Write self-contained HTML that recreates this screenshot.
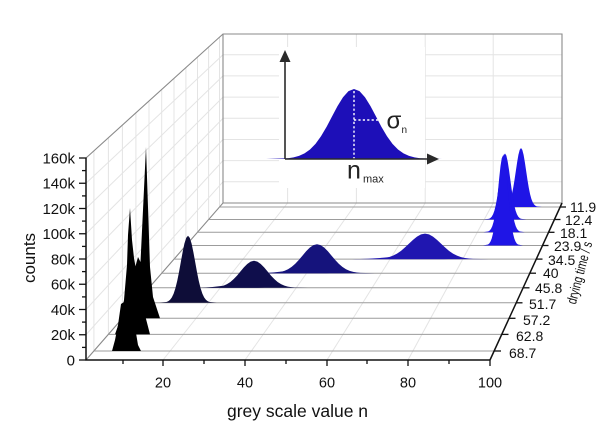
<!DOCTYPE html>
<html><head><meta charset="utf-8"><style>
html,body{margin:0;padding:0;background:#fff;}
svg{display:block;font-family:"Liberation Sans",Arial,sans-serif;}
</style></head><body>
<svg width="600" height="429" viewBox="0 0 600 429" xmlns="http://www.w3.org/2000/svg">
<defs>
<path id="g" d="M-4,0 L-3,-0.0111 L-2.75,-0.0228 L-2.5,-0.0439 L-2.25,-0.0796 L-2,-0.1353 L-1.75,-0.2163 L-1.5,-0.3247 L-1.25,-0.4578 L-1,-0.6065 L-0.75,-0.7548 L-0.5,-0.8825 L-0.25,-0.9692 L0,-1 L0.25,-0.9692 L0.5,-0.8825 L0.75,-0.7548 L1,-0.6065 L1.25,-0.4578 L1.5,-0.3247 L1.75,-0.2163 L2,-0.1353 L2.25,-0.0796 L2.5,-0.0439 L2.75,-0.0228 L3,-0.0111 L4,0 Z"/>
</defs>
<rect width="600" height="429" fill="#fff"/>

<!-- back wall grid -->
<g stroke="#e4e4e4" stroke-width="1" fill="none">
<line x1="223" y1="181.8" x2="562" y2="181.8"/>
<line x1="223" y1="160.6" x2="562" y2="160.6"/>
<line x1="223" y1="139.5" x2="562" y2="139.5"/>
<line x1="223" y1="118.3" x2="562" y2="118.3"/>
<line x1="223" y1="97.1" x2="562" y2="97.1"/>
<line x1="223" y1="75.9" x2="562" y2="75.9"/>
<line x1="223" y1="54.8" x2="562" y2="54.8"/>
<line x1="287.6" y1="34" x2="287.6" y2="203"/>
<line x1="356.4" y1="34" x2="356.4" y2="203"/>
<line x1="425.2" y1="34" x2="425.2" y2="203"/>
<line x1="493.2" y1="34" x2="493.2" y2="203"/>
<line x1="86" y1="334.75" x2="223" y2="181.8"/>
<line x1="86" y1="309.5" x2="223" y2="160.6"/>
<line x1="86" y1="284.25" x2="223" y2="139.5"/>
<line x1="86" y1="259" x2="223" y2="118.3"/>
<line x1="86" y1="233.75" x2="223" y2="97.1"/>
<line x1="86" y1="208.5" x2="223" y2="75.9"/>
<line x1="86" y1="183.25" x2="223" y2="54.8"/>
<line x1="93.9" y1="150.9" x2="93.9" y2="351"/>
<line x1="108.4" y1="137.7" x2="108.4" y2="334.4"/>
<line x1="122.4" y1="124.9" x2="122.4" y2="318.3"/>
<line x1="135.9" y1="112.6" x2="135.9" y2="302.8"/>
<line x1="149" y1="100.7" x2="149" y2="287.8"/>
<line x1="161.7" y1="89.2" x2="161.7" y2="273.2"/>
<line x1="174" y1="78" x2="174" y2="259.1"/>
<line x1="185.9" y1="67.2" x2="185.9" y2="245.5"/>
<line x1="197.5" y1="56.7" x2="197.5" y2="232.3"/>
<line x1="208.6" y1="46.6" x2="208.6" y2="219.5"/>
<line x1="219.5" y1="36.7" x2="219.5" y2="207"/>
<line x1="163" y1="360" x2="287.6" y2="203"/>
<line x1="245" y1="360" x2="356.4" y2="203"/>
<line x1="327" y1="360" x2="425.2" y2="203"/>
<line x1="408" y1="360" x2="493.2" y2="203"/>
</g>

<!-- wall borders -->
<g stroke="#8a8a8a" stroke-width="1.1" fill="none">
<polyline points="86,158 223,34 562,34 562,203 223,203 86,360"/>
<line x1="223" y1="34" x2="223" y2="203"/>
</g>

<!-- inset -->
<rect x="279" y="47" width="146" height="141" fill="#fff"/>
<use href="#g" transform="translate(354,159) scale(22,70)" fill="#1d0fb8"/>
<g stroke="#fff" stroke-width="1.4" stroke-dasharray="2.2,2.2">
<line x1="354" y1="91" x2="354" y2="159"/>
<line x1="354" y1="120" x2="378" y2="120"/>
</g>
<g stroke="#2a2a2a" stroke-width="1.6">
<line x1="285" y1="159" x2="285" y2="60"/>
<line x1="285" y1="159" x2="428" y2="159"/>
</g>
<polygon points="285,50 279.5,62 290.5,62" fill="#2a2a2a"/>
<polygon points="439,159 427,153.5 427,164.5" fill="#2a2a2a"/>
<text x="386.5" y="128.3" font-size="24" fill="#222">σ</text>
<text x="401.5" y="133" font-size="10" fill="#222">n</text>
<text x="347" y="178.5" font-size="25" fill="#222">n</text>
<text x="363" y="182.5" font-size="11" fill="#222">max</text>

<!-- i=10 -->
<line x1="219.5" y1="207" x2="560.1" y2="207" stroke="#9c9c9c"/>
<use href="#g" transform="translate(521,207) scale(5.2,59)" fill="#1f15e6"/>
<!-- i=9 -->
<line x1="208.6" y1="219.5" x2="554.4" y2="219.5" stroke="#9c9c9c"/>
<use href="#g" transform="translate(505,219.5) scale(5.3,66)" fill="#1f15e6"/>
<!-- i=8 -->
<line x1="197.5" y1="232.3" x2="548.5" y2="232.3" stroke="#9c9c9c"/>
<use href="#g" transform="translate(504,232.3) scale(5.2,78)" fill="#1f15e6"/>
<!-- i=7 -->
<line x1="185.9" y1="245.5" x2="542.5" y2="245.5" stroke="#9c9c9c"/>
<use href="#g" transform="translate(503,245.5) scale(5,90)" fill="#1f15e6"/>
<!-- i=6 -->
<line x1="174" y1="259.1" x2="536.2" y2="259.1" stroke="#9c9c9c"/>
<use href="#g" transform="translate(400,259.1) scale(16,2.5)" fill="#2016b0"/>
<use href="#g" transform="translate(425,259.1) scale(16,25.5)" fill="#2016b0"/>
<!-- i=5 -->
<line x1="161.7" y1="273.2" x2="529.8" y2="273.2" stroke="#9c9c9c"/>
<use href="#g" transform="translate(295,273.2) scale(14,2.5)" fill="#15137c"/>
<use href="#g" transform="translate(317,273.2) scale(14.5,29)" fill="#15137c"/>
<!-- i=4 -->
<line x1="149" y1="287.8" x2="523.1" y2="287.8" stroke="#9c9c9c"/>
<use href="#g" transform="translate(232,287.8) scale(13,2.5)" fill="#0f0e4c"/>
<use href="#g" transform="translate(254,287.8) scale(13.5,27)" fill="#0f0e4c"/>
<!-- i=3 -->
<line x1="135.9" y1="302.8" x2="516.2" y2="302.8" stroke="#9c9c9c"/>
<use href="#g" transform="translate(188,302.8) scale(7.2,67)" fill="#0e0d38"/>
<!-- i=2 -->
<line x1="122.4" y1="318.3" x2="509.1" y2="318.3" stroke="#9c9c9c"/>
<polygon points="124,318.3 131,295 135,268 138,257 140.5,262 143,210 146,147 148,207 150,267 153,297 160,318.3" fill="#000"/>
<!-- i=1 -->
<line x1="108.4" y1="334.4" x2="501.8" y2="334.4" stroke="#9c9c9c"/>
<polygon points="115,334.4 120,320 124,300 127,265 128,235 130,208 132,240 134,258 137,275 141,295 145,315 150,334.4" fill="#000"/>
<!-- i=0 -->
<line x1="93.9" y1="351" x2="494.1" y2="351" stroke="#9c9c9c"/>
<polygon points="112,351 115,340 118,325 121,304 124,302 127,310 131,322 136,333 138,345 141,351" fill="#000"/>

<!-- front axes -->
<g stroke="#111" stroke-width="1.5" fill="none">
<line x1="86" y1="157.5" x2="86" y2="360.5"/>
<line x1="85.5" y1="360" x2="490.5" y2="360"/>
<line x1="490" y1="360" x2="562" y2="203"/>
</g>
<g stroke="#111" stroke-width="1.3">
<line x1="79" y1="158" x2="86" y2="158"/>
<line x1="79" y1="183.25" x2="86" y2="183.25"/>
<line x1="79" y1="208.5" x2="86" y2="208.5"/>
<line x1="79" y1="233.75" x2="86" y2="233.75"/>
<line x1="79" y1="259" x2="86" y2="259"/>
<line x1="79" y1="284.25" x2="86" y2="284.25"/>
<line x1="79" y1="309.5" x2="86" y2="309.5"/>
<line x1="79" y1="334.75" x2="86" y2="334.75"/>
<line x1="79" y1="360" x2="86" y2="360"/>
<line x1="82" y1="170.6" x2="86" y2="170.6"/>
<line x1="82" y1="195.9" x2="86" y2="195.9"/>
<line x1="82" y1="221.1" x2="86" y2="221.1"/>
<line x1="82" y1="246.4" x2="86" y2="246.4"/>
<line x1="82" y1="271.6" x2="86" y2="271.6"/>
<line x1="82" y1="296.9" x2="86" y2="296.9"/>
<line x1="82" y1="322.1" x2="86" y2="322.1"/>
<line x1="82" y1="347.4" x2="86" y2="347.4"/>
<line x1="163" y1="360" x2="163" y2="366"/>
<line x1="245" y1="360" x2="245" y2="366"/>
<line x1="327" y1="360" x2="327" y2="366"/>
<line x1="408" y1="360" x2="408" y2="366"/>
<line x1="490" y1="360" x2="490" y2="366"/>
<line x1="123" y1="360" x2="123" y2="364"/>
<line x1="204" y1="360" x2="204" y2="364"/>
<line x1="286" y1="360" x2="286" y2="364"/>
<line x1="367" y1="360" x2="367" y2="364"/>
<line x1="449" y1="360" x2="449" y2="364"/>
<line x1="494.1" y1="351" x2="501" y2="351"/>
<line x1="501.8" y1="334.4" x2="508.5" y2="334.4"/>
<line x1="509.1" y1="318.3" x2="515.5" y2="318.3"/>
<line x1="516.2" y1="302.8" x2="522.5" y2="302.8"/>
<line x1="523.1" y1="287.8" x2="529.5" y2="287.8"/>
<line x1="529.8" y1="273.2" x2="536" y2="273.2"/>
<line x1="536.2" y1="259.1" x2="542.5" y2="259.1"/>
<line x1="542.5" y1="245.5" x2="548.5" y2="245.5"/>
<line x1="548.5" y1="232.3" x2="554.5" y2="232.3"/>
<line x1="554.4" y1="219.5" x2="560.5" y2="219.5"/>
<line x1="560.1" y1="207" x2="566" y2="207"/>
</g>

<!-- y labels -->
<g font-size="15" fill="#111" text-anchor="end">
<text x="75" y="163.4">160k</text>
<text x="75" y="188.6">140k</text>
<text x="75" y="213.9">120k</text>
<text x="75" y="239.1">100k</text>
<text x="75" y="264.4">80k</text>
<text x="75" y="289.6">60k</text>
<text x="75" y="314.9">40k</text>
<text x="75" y="340.1">20k</text>
<text x="75" y="365.4">0</text>
</g>
<text x="0" y="0" font-size="17" fill="#111" text-anchor="middle" transform="translate(35,258) rotate(-90)">counts</text>

<!-- x labels -->
<g font-size="14.5" fill="#111" text-anchor="middle">
<text x="163" y="387.5">20</text>
<text x="245" y="387.5">40</text>
<text x="327" y="387.5">60</text>
<text x="408" y="387.5">80</text>
<text x="490" y="387.5">100</text>
</g>
<text x="297.5" y="417" font-size="17.5" fill="#111" text-anchor="middle">grey scale value n</text>

<!-- depth labels -->
<g font-size="14" fill="#111">
<text x="509" y="358">68.7</text>
<text x="516" y="341">62.8</text>
<text x="523" y="325">57.2</text>
<text x="529" y="309">51.7</text>
<text x="535" y="293">45.8</text>
<text x="543" y="278">40</text>
<text x="548" y="265">34.5</text>
<text x="554" y="251">23.9</text>
<text x="560" y="238">18.1</text>
<text x="565" y="225">12.4</text>
<text x="570" y="212">11.9</text>
</g>
<text x="0" y="0" font-size="14" fill="#111" text-anchor="middle" textLength="64" lengthAdjust="spacingAndGlyphs" transform="translate(584,274) rotate(-75)">drying time / s</text>
</svg>
</body></html>
